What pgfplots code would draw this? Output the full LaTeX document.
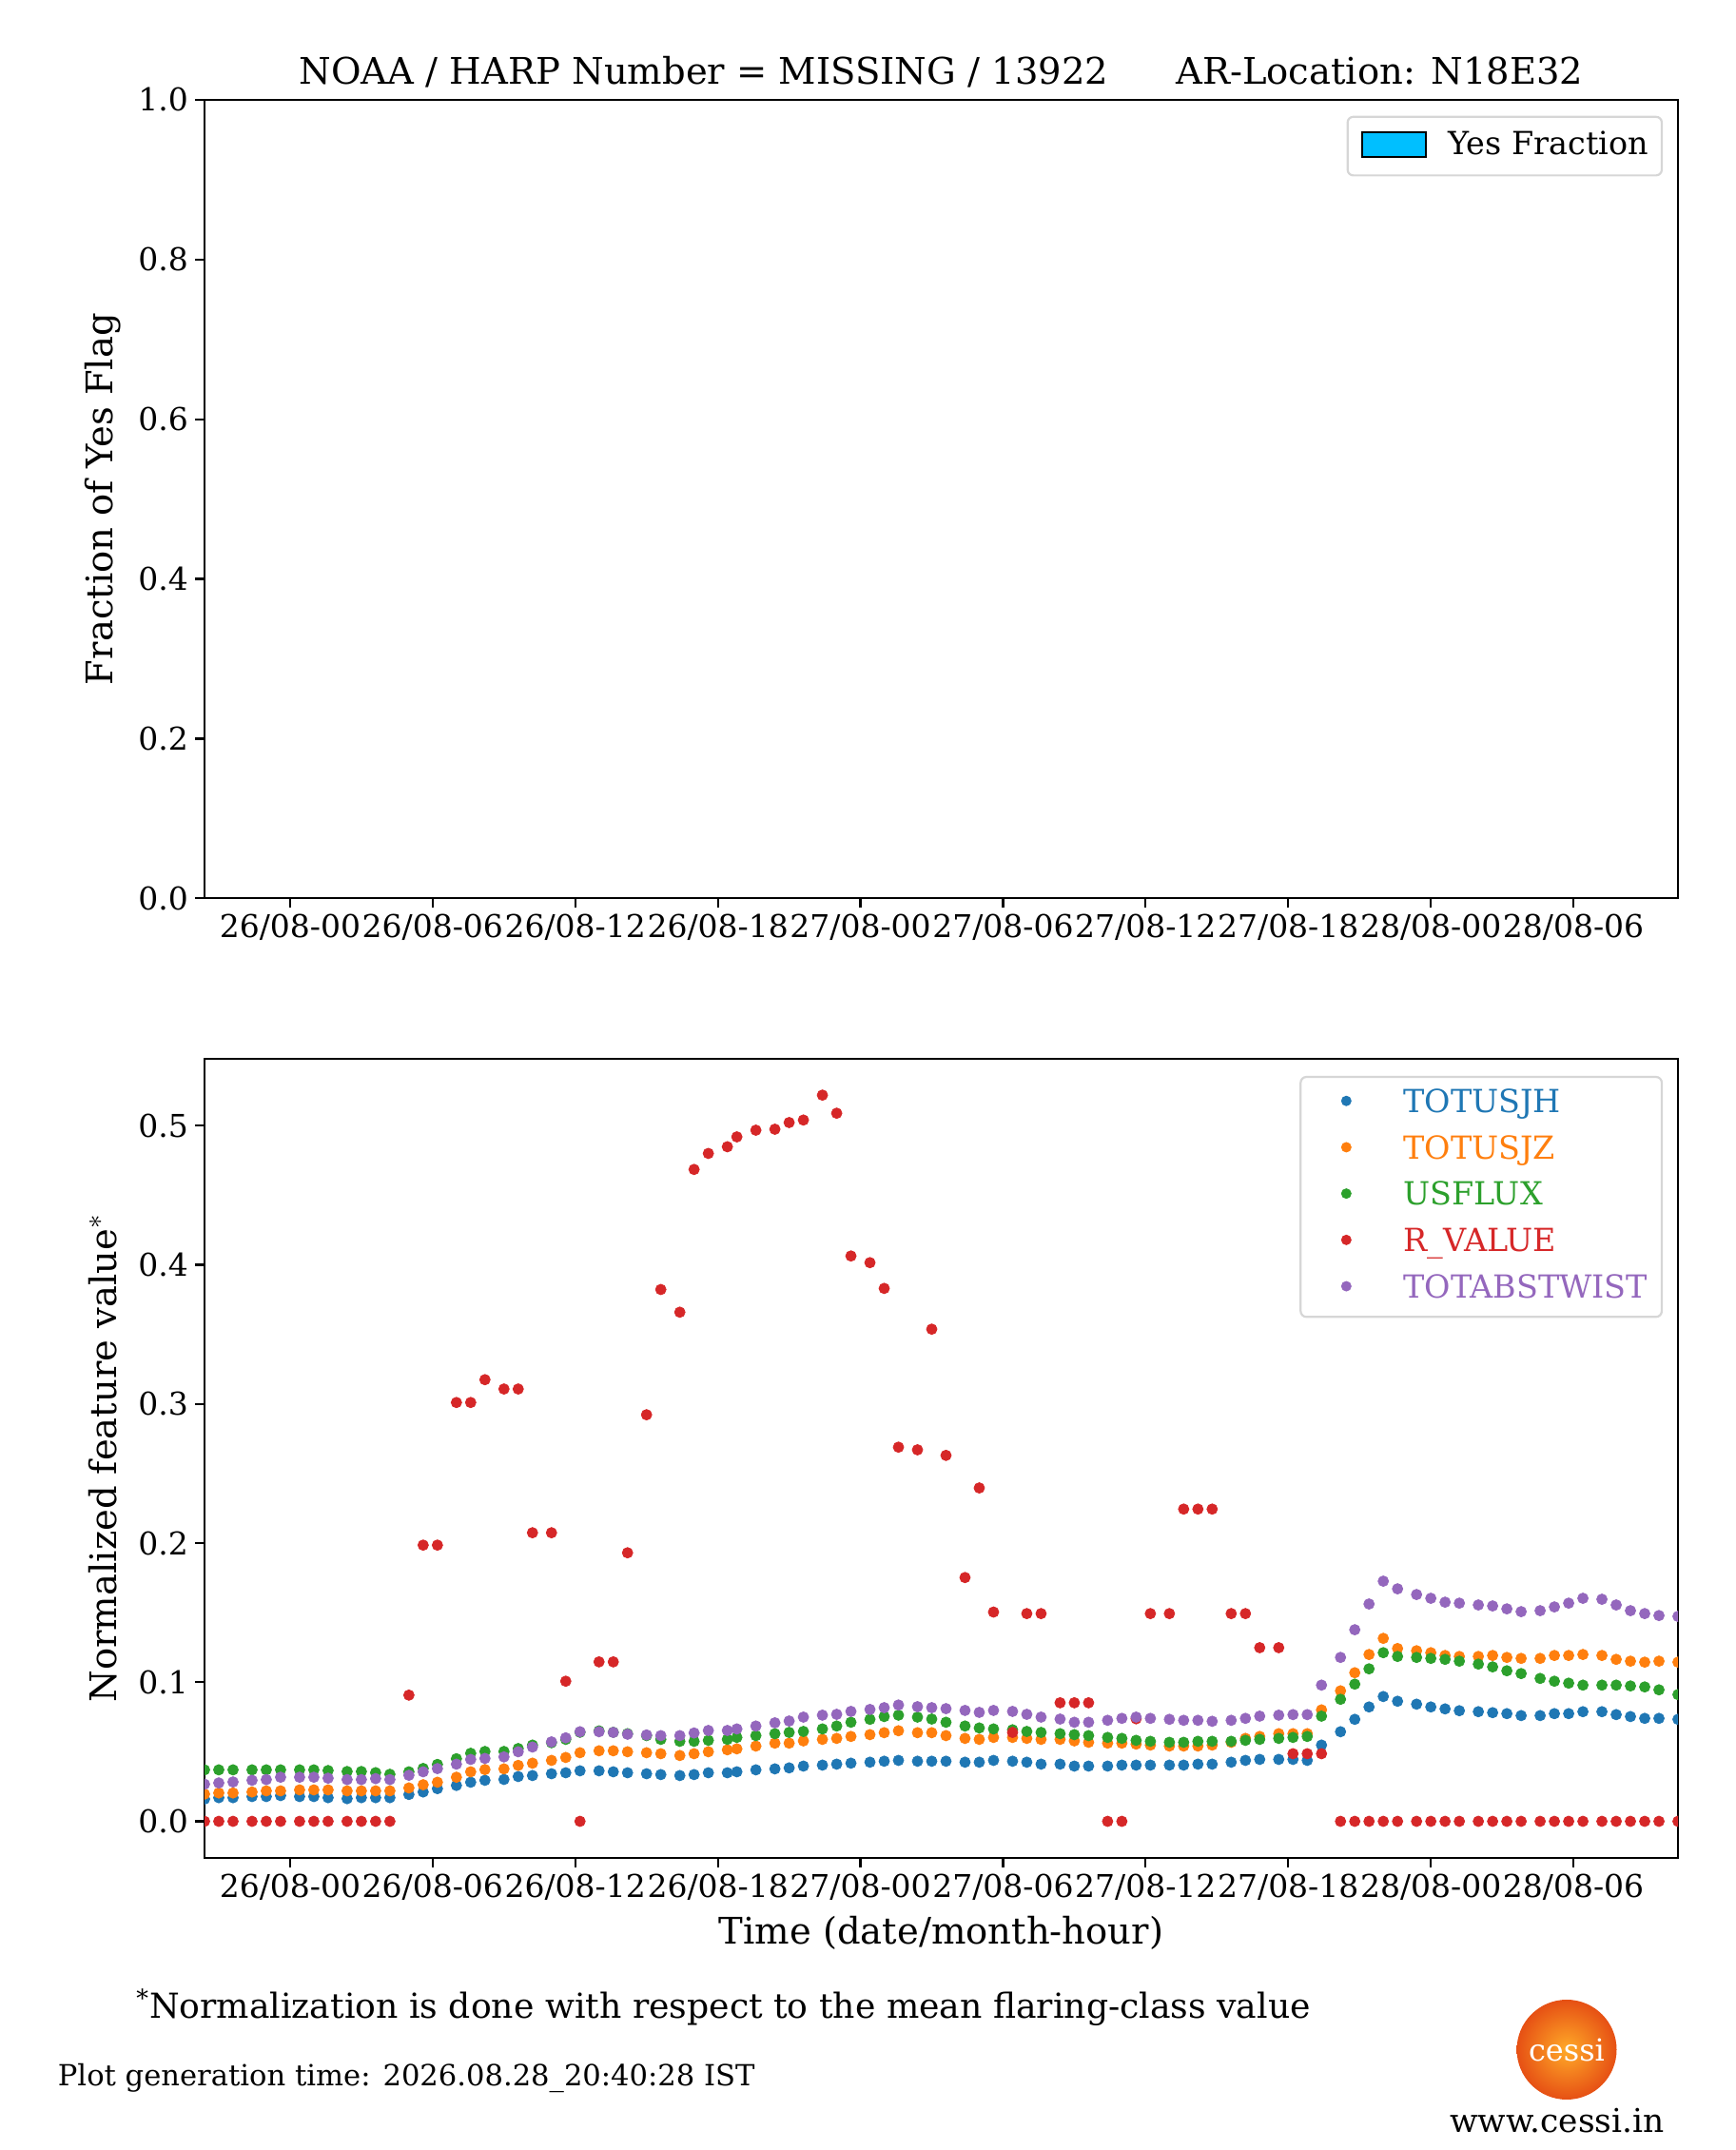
\documentclass[border=0pt]{standalone}
\usepackage{fontspec}
\setmainfont{DejaVu Serif}
\usepackage{pgfplots}
\pgfplotsset{compat=1.18}
\usepackage{pgfplotstable}

\definecolor{tabblue}{HTML}{1F77B4}
\definecolor{taborange}{HTML}{FF7F0E}
\definecolor{tabgreen}{HTML}{2CA02C}
\definecolor{tabred}{HTML}{D62728}
\definecolor{tabpurple}{HTML}{9467BD}
\definecolor{deepsky}{HTML}{00BFFF}
\definecolor{legendgray}{HTML}{D6D6D6}

\newcommand\tickfont{\fontsize{16.5}{19.8}\selectfont}
\newcommand\labelfont{\fontsize{19.25}{23}\selectfont}
\newcommand\legfont{\fontsize{16.7}{20}\selectfont}

\pgfplotstableread{
t jh jz flux r twist
-3.6 0.0160 0.0196 0.0370 0 0.0267
-3.0 0.0170 0.0204 0.0370 0 0.0276
-2.4 0.0170 0.0204 0.0370 0 0.0283
-1.6 0.0178 0.0211 0.0370 0 0.0295
-1.0 0.0178 0.0219 0.0370 0 0.0300
-0.4 0.0185 0.0219 0.0370 0 0.0317
0.4 0.0178 0.0226 0.0370 0 0.0317
1.0 0.0178 0.0226 0.0370 0 0.0317
1.6 0.0170 0.0226 0.0365 0 0.0310
2.4 0.0163 0.0219 0.0358 0 0.0300
3.0 0.0170 0.0219 0.0358 0 0.0300
3.6 0.0170 0.0219 0.0350 0 0.0307
4.2 0.0170 0.0219 0.0338 0 0.0300
5.0 0.0193 0.0240 0.0356 0.0907 0.0331
5.6 0.0211 0.0263 0.0380 0.1985 0.0356
6.2 0.0235 0.0281 0.0409 0.1985 0.0379
7.0 0.0258 0.0317 0.0450 0.3010 0.0411
7.6 0.0281 0.0356 0.0489 0.3010 0.0445
8.2 0.0295 0.0372 0.0502 0.3174 0.0452
9.0 0.0301 0.0377 0.0502 0.3107 0.0463
9.6 0.0322 0.0402 0.0523 0.3107 0.0500
10.2 0.0329 0.0418 0.0548 0.2074 0.0534
11.0 0.0342 0.0438 0.0565 0.2074 0.0571
11.6 0.0349 0.0459 0.0589 0.1007 0.0600
12.2 0.0363 0.0493 0.0640 0 0.0644
13.0 0.0363 0.0507 0.0650 0.1146 0.0644
13.6 0.0356 0.0507 0.0640 0.1146 0.0639
14.2 0.0349 0.0500 0.0630 0.1930 0.0626
15.0 0.0342 0.0493 0.0616 0.2922 0.0621
15.6 0.0336 0.0486 0.0589 0.3822 0.0616
16.4 0.0329 0.0473 0.0575 0.3659 0.0616
17.0 0.0336 0.0486 0.0575 0.4685 0.0635
17.6 0.0349 0.0500 0.0582 0.4800 0.0653
18.4 0.0349 0.0514 0.0589 0.4848 0.0653
18.8 0.0356 0.0521 0.0603 0.4919 0.0664
19.6 0.0370 0.0541 0.0616 0.4967 0.0685
20.4 0.0377 0.0562 0.0630 0.4974 0.0708
21.0 0.0384 0.0562 0.0639 0.5022 0.0721
21.6 0.0397 0.0578 0.0646 0.5040 0.0749
22.4 0.0404 0.0589 0.0664 0.5219 0.0763
23.0 0.0411 0.0596 0.0685 0.5089 0.0769
23.6 0.0418 0.0610 0.0712 0.4063 0.0790
24.4 0.0425 0.0623 0.0733 0.4015 0.0804
25.0 0.0432 0.0637 0.0753 0.3830 0.0817
25.6 0.0438 0.0651 0.0763 0.2689 0.0836
26.4 0.0432 0.0637 0.0749 0.2670 0.0824
27.0 0.0432 0.0637 0.0735 0.3537 0.0817
27.6 0.0432 0.0616 0.0712 0.2630 0.0810
28.4 0.0425 0.0596 0.0685 0.1752 0.0797
29.0 0.0425 0.0589 0.0671 0.2396 0.0783
29.6 0.0438 0.0603 0.0664 0.1504 0.0797
30.4 0.0432 0.0603 0.0658 0.0639 0.0790
31.0 0.0425 0.0596 0.0646 0.1493 0.0769
31.6 0.0411 0.0589 0.0639 0.1493 0.0749
32.4 0.0411 0.0589 0.0630 0.0852 0.0735
33.0 0.0397 0.0578 0.0623 0.0852 0.0712
33.6 0.0397 0.0568 0.0616 0.0852 0.0712
34.4 0.0397 0.0562 0.0603 0 0.0726
35.0 0.0404 0.0562 0.0596 0 0.0740
35.6 0.0404 0.0555 0.0582 0.0737 0.0749
36.2 0.0404 0.0548 0.0575 0.1493 0.0740
37.0 0.0404 0.0541 0.0568 0.1493 0.0733
37.6 0.0404 0.0541 0.0568 0.2244 0.0726
38.2 0.0411 0.0541 0.0575 0.2244 0.0726
38.8 0.0411 0.0548 0.0575 0.2244 0.0719
39.6 0.0425 0.0568 0.0575 0.1493 0.0726
40.2 0.0438 0.0596 0.0582 0.1493 0.0740
40.8 0.0445 0.0610 0.0589 0.1248 0.0756
41.6 0.0445 0.0630 0.0596 0.1248 0.0763
42.2 0.0445 0.0630 0.0603 0.0486 0.0767
42.8 0.0438 0.0630 0.0610 0.0486 0.0767
43.4 0.0548 0.0801 0.0756 0.0486 0.0979
44.2 0.0644 0.0938 0.0877 0 0.1178
44.8 0.0733 0.1068 0.0986 0 0.1377
45.4 0.0822 0.1199 0.1096 0 0.1562
46.0 0.0897 0.1315 0.1212 0 0.1726
46.6 0.0863 0.1242 0.1185 0 0.1671
47.4 0.0842 0.1226 0.1178 0 0.1630
48.0 0.0822 0.1212 0.1171 0 0.1603
48.6 0.0808 0.1192 0.1164 0 0.1575
49.2 0.0795 0.1185 0.1151 0 0.1568
50.0 0.0788 0.1185 0.1130 0 0.1555
50.6 0.0781 0.1192 0.1110 0 0.1548
51.2 0.0774 0.1178 0.1082 0 0.1527
51.8 0.0760 0.1171 0.1062 0 0.1507
52.6 0.0760 0.1171 0.1027 0 0.1514
53.2 0.0774 0.1192 0.1007 0 0.1541
53.8 0.0774 0.1192 0.0993 0 0.1568
54.4 0.0788 0.1199 0.0979 0 0.1603
55.2 0.0788 0.1192 0.0979 0 0.1596
55.8 0.0767 0.1164 0.0979 0 0.1555
56.4 0.0753 0.1151 0.0973 0 0.1514
57.0 0.0740 0.1144 0.0966 0 0.1493
57.6 0.0740 0.1151 0.0945 0 0.1479
58.4 0.0733 0.1144 0.0911 0 0.1473
}\data

\pgfplotsset{
  myaxis/.style={
    scale only axis, width=774.5pt, anchor=south west,
    xmin=-3.6, xmax=58.4,
    xtick={0,6,...,54},
    xticklabels={26/08-00,26/08-06,26/08-12,26/08-18,27/08-00,27/08-06,27/08-12,27/08-18,28/08-00,28/08-06},
    axis line style={line width=1.1pt},
    tick style={line width=1.1pt, black},
    major tick length=5pt,
    tick align=outside,
    tick pos=left,
    ticklabel style={font=\tickfont},
    /pgf/number format/assume math mode=true,
    yticklabel style={/pgf/number format/fixed, /pgf/number format/fixed zerofill, /pgf/number format/precision=1},
    every axis y label/.style={at={(axis description cs:-0.0691,0.5)},anchor=center,rotate=90,font=\labelfont},
    every axis x label/.style={at={(axis description cs:0.5,-0.1079)},anchor=base,font=\labelfont},
    clip marker paths=true,
  },
  dots/.style={only marks, mark=*, mark size=2.75pt, color=#1, mark options={draw=none, fill=#1},
    legend image code/.code={\path[draw=none,fill=none] (0pt,-7.85pt) rectangle (46.5pt,7.85pt); \fill[#1,draw=none] (16.5pt,1.75pt) circle (2.75pt);}},
}

\begin{document}
\begin{tikzpicture}
\path[use as bounding box] (0pt,0pt) rectangle (912.5pt,1130pt);

% top panel
\begin{axis}[myaxis, at={(107.5pt,657.85pt)}, height=419.65pt,
  ymin=0, ymax=1, ytick={0,0.2,...,1.0},
  ylabel={Fraction of Yes Flag},
  legend style={at={(axis description cs:0.9897,0.9801)}, anchor=north east,
    draw=legendgray, line width=1.1pt, rounded corners=3pt, fill=white,
    font=\legfont, inner xsep=7pt, inner ysep=7.4pt,
    nodes={inner sep=0pt, text height=12.2pt, text depth=3.5pt}},
  legend cell align=left,
]
\addlegendimage{legend image code/.code={\path[draw=none,fill=none] (0pt,-7.85pt) rectangle (45.5pt,7.85pt); \draw[black, fill=deepsky, line width=1.1pt, sharp corners] (0pt,-5.4pt) rectangle (33.5pt,7.6pt);}}
\addlegendentry{Yes Fraction}
\end{axis}

% bottom panel
\begin{axis}[myaxis, at={(107.5pt,153.65pt)}, height=419.85pt,
  ymin=-0.0261, ymax=0.548, ytick={0,0.1,...,0.5},
  ylabel={Normalized feature value$^{*}$},
  xlabel={Time (date/month-hour)},
  legend style={at={(axis description cs:0.9897,0.9786)}, anchor=north east,
    draw=legendgray, line width=1.1pt, rounded corners=3pt, fill=white,
    font=\legfont, inner xsep=7.5pt, inner ysep=6.5pt, row sep=8.65pt,
    nodes={inner sep=0pt, text height=12.2pt, text depth=3.5pt}},
  legend cell align=left,
]
\addplot[dots=tabblue] table[x=t, y=jh] {\data};
\addlegendentry{\textcolor{tabblue}{TOTUSJH}}
\addplot[dots=taborange] table[x=t, y=jz] {\data};
\addlegendentry{\textcolor{taborange}{TOTUSJZ}}
\addplot[dots=tabgreen] table[x=t, y=flux] {\data};
\addlegendentry{\textcolor{tabgreen}{USFLUX}}
\addplot[dots=tabred] table[x=t, y=r] {\data};
\addlegendentry{\textcolor{tabred}{R\_VALUE}}
\addplot[dots=tabpurple] table[x=t, y=twist] {\data};
\addlegendentry{\textcolor{tabpurple}{TOTABSTWIST}}
\end{axis}

% title
\node[anchor=base, inner sep=0pt, font=\labelfont] at (494.75pt,1085.85pt)
  {NOAA / HARP Number = MISSING / 13922\hspace{1.85em}AR-Location: N18E32};

% footnote
\node[anchor=base west, inner sep=0pt, font=\fontsize{18.1}{21.7}\selectfont] at (71.5pt,69.15pt)
  {\textsuperscript{*}Normalization is done with respect to the mean flaring-class value};
\node[anchor=base west, inner sep=0pt, font=\fontsize{15.3}{18}\selectfont] at (30.25pt,33.85pt)
  {Plot generation time: 2026.08.28\_20:40:28 IST};

% logo
\shade[inner color={rgb,255:red,255;green,170;blue,40}, outer color={rgb,255:red,230;green,80;blue,20}] (823.5pt,52.75pt) circle (26.25pt);
\node[text=white, font=\fontsize{16}{19}\selectfont] at (823.5pt,52.75pt) {cessi};
\node[anchor=base, inner sep=0pt, font=\fontsize{17.2}{20}\selectfont] at (818.5pt,9.15pt) {www.cessi.in};
\end{tikzpicture}
\end{document}
